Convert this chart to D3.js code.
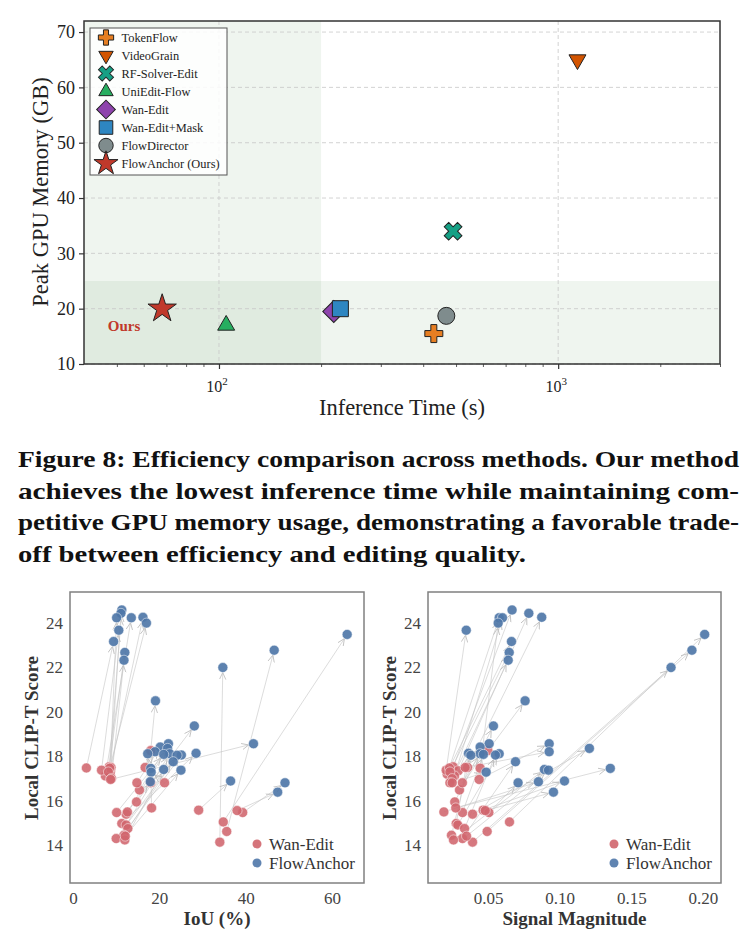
<!DOCTYPE html>
<html lang="en">
<head>
<meta charset="UTF-8">
<title>Efficiency</title>
<script src="https://d3js.org/d3.v7.min.js"></script>
<style>
  body { margin: 0; background: #fff; }
  svg { display: block; font-family: "Liberation Serif", "DejaVu Serif", serif; }
</style>
</head>
<body>
<script>
// ---- top chart data ----
const methods = ["TokenFlow", "VideoGrain", "RF-Solver-Edit", "UniEdit-Flow", "Wan-Edit", "Wan-Edit+Mask", "FlowDirector", "FlowAnchor (Ours)"];
const inferTime = [430, 1140, 490, 105, 218, 228, 468, 68];
const peakMem = [15.5, 65, 34, 17, 19.5, 20, 18.7, 20];
const memTicks = [10, 20, 30, 40, 50, 60, 70];

// ---- bottom charts data (Wan-Edit -> FlowAnchor, per sample) ----
const wanIoU = [8.4, 8.7, 8.6, 7.5, 8.8, 8.5, 6.6, 34.8, 3.1, 35.6, 8.2, 8.9, 34.0, 18.0, 14.7, 8.7, 15.4, 14.8, 12.3, 16.7, 11.3, 18.0, 12.3, 10.1, 12.7, 11.8, 10.0, 18.2, 12.0, 12.1, 21.2, 29.1, 12.6, 39.3, 38.0];
const wanSig = [0.0256, 0.0291, 0.0214, 0.0265, 0.0356, 0.0444, 0.0207, 0.0649, 0.0230, 0.0493, 0.0233, 0.0249, 0.0391, 0.0498, 0.0267, 0.0437, 0.0300, 0.0233, 0.0391, 0.0340, 0.0277, 0.0320, 0.0288, 0.0321, 0.0335, 0.0244, 0.0321, 0.0274, 0.0258, 0.0349, 0.0249, 0.0465, 0.0191, 0.0505, 0.0480];
const wanClip = [17.53, 17.35, 17.2, 17.12, 17.5, 17.47, 17.38, 15.05, 17.48, 14.62, 17.3, 17.0, 14.14, 18.26, 15.95, 16.96, 16.49, 16.81, 15.4, 17.5, 14.98, 16.81, 14.91, 15.47, 14.75, 14.45, 14.3, 15.68, 14.24, 14.41, 16.81, 15.58, 15.5, 15.47, 15.56];
const faIoU = [11.3, 11.1, 10.1, 13.5, 16.2, 17.0, 10.6, 63.5, 9.4, 46.6, 12.0, 11.8, 34.7, 19.1, 28.1, 41.8, 22.1, 20.2, 21.9, 19.0, 28.5, 17.3, 22.4, 21.0, 25.1, 24.1, 23.2, 18.0, 21.0, 25.0, 18.1, 36.5, 17.9, 49.1, 47.4];
const faSig = [0.0667, 0.0784, 0.0577, 0.0600, 0.0874, 0.0570, 0.0347, 0.2012, 0.0663, 0.1923, 0.0647, 0.0640, 0.1777, 0.0758, 0.0537, 0.0926, 0.0507, 0.0444, 0.1207, 0.0926, 0.0363, 0.0444, 0.0577, 0.0467, 0.0551, 0.0379, 0.0691, 0.1353, 0.0893, 0.0921, 0.0486, 0.1033, 0.0851, 0.0709, 0.0956];
const faClip = [24.59, 24.44, 24.24, 24.24, 24.26, 24.0, 23.68, 23.49, 23.17, 22.78, 22.68, 22.33, 22.0, 20.5, 19.37, 18.57, 18.57, 18.42, 18.36, 18.21, 18.14, 18.12, 18.12, 18.09, 18.06, 18.05, 17.76, 17.46, 17.41, 17.38, 17.29, 16.89, 16.86, 16.81, 16.39];
const clipTicks = [14, 16, 18, 20, 22, 24];
const iouTicks = [0, 20, 40, 60];
const sigTicks = [0.05, 0.10, 0.15, 0.20];

const captionLines = [
  "Figure 8: Efficiency comparison across methods. Our method",
  "achieves the lowest inference time while maintaining com-",
  "petitive GPU memory usage, demonstrating a favorable trade-",
  "off between efficiency and editing quality."
];

const svg = d3.select("body").append("svg").attr("width", 756).attr("height", 947);

// ================= top chart =================
const colors = ["#e67e22", "#d35400", "#16a085", "#27ae60", "#8e44ad", "#2e86c1", "#7f8c8d", "#c0392b"];
const shapes = [
  {t: d3.symbolCross, s: 180, r: 0},
  {t: d3.symbolTriangle, s: 125, r: 180},
  {t: d3.symbolCross, s: 196, r: 45},
  {t: d3.symbolTriangle, s: 125, r: 0},
  {t: d3.symbolSquare, s: 242, r: 45},
  {t: d3.symbolSquare, s: 256, r: 0},
  {t: d3.symbolCircle, s: 227, r: 0},
  {t: d3.symbolStar, s: 250, r: 0}
];

const x = d3.scaleLog().domain([40, 3000]).range([84, 720]);
const y = d3.scaleLinear().domain([10, 72]).range([364, 21]);
const topG = svg.append("g");

// shaded efficiency regions
topG.append("rect").attr("x", x(40)).attr("y", y(72)).attr("width", x(200) - x(40)).attr("height", y(10) - y(72))
  .attr("fill", "#2e7d32").attr("fill-opacity", 0.08);
topG.append("rect").attr("x", x(40)).attr("y", y(25)).attr("width", x(3000) - x(40)).attr("height", y(10) - y(25))
  .attr("fill", "#2e7d32").attr("fill-opacity", 0.08);

// grid
topG.selectAll("line.gy").data(memTicks).join("line").attr("class", "gy")
  .attr("x1", 84).attr("x2", 720).attr("y1", d => y(d)).attr("y2", d => y(d))
  .attr("stroke", "#c8c8c8").attr("stroke-dasharray", "4,3").attr("stroke-width", 0.8);
topG.selectAll("line.gx").data([100, 1000]).join("line").attr("class", "gx")
  .attr("x1", d => x(d)).attr("x2", d => x(d)).attr("y1", 21).attr("y2", 364)
  .attr("stroke", "#c8c8c8").attr("stroke-dasharray", "4,3").attr("stroke-width", 0.8);

// axes
const yAxis = d3.axisLeft(y).tickValues(memTicks).tickSize(5).tickPadding(4);
topG.append("g").attr("transform", "translate(84,0)").call(yAxis)
  .call(g => g.select(".domain").remove())
  .call(g => g.selectAll("text").attr("font-size", 18).attr("fill", "#222").attr("font-family", "Liberation Serif"))
  .call(g => g.selectAll("line").attr("stroke", "#333").attr("stroke-width", 1.2));

const minor = [50, 60, 70, 80, 90, 200, 300, 400, 500, 600, 700, 800, 900, 2000, 3000];
topG.append("g").attr("transform", "translate(0,364)")
  .call(d3.axisBottom(x).tickValues(minor).tickSize(3).tickFormat(""))
  .call(g => g.select(".domain").remove())
  .call(g => g.selectAll("line").attr("stroke", "#333").attr("stroke-width", 0.8));
topG.append("g").attr("transform", "translate(0,364)")
  .call(d3.axisBottom(x).tickValues([100, 1000]).tickSize(5).tickFormat(""))
  .call(g => g.select(".domain").remove())
  .call(g => g.selectAll("line").attr("stroke", "#333").attr("stroke-width", 1.2));
[100, 1000].forEach(v => {
  const t = topG.append("text").attr("x", x(v) - 2).attr("y", 392).attr("text-anchor", "middle")
    .attr("font-size", 16).attr("fill", "#222");
  t.append("tspan").text("10");
  t.append("tspan").attr("dy", -7).attr("font-size", 11).text(Math.round(Math.log10(v)));
});

topG.append("rect").attr("x", 84).attr("y", 21).attr("width", 636).attr("height", 343)
  .attr("fill", "none").attr("stroke", "#333").attr("stroke-width", 1.5);

topG.append("text").attr("x", 402).attr("y", 415).attr("text-anchor", "middle")
  .attr("font-size", 22.5).attr("fill", "#222").text("Inference Time (s)");
topG.append("text").attr("transform", "translate(48,192) rotate(-90)").attr("text-anchor", "middle")
  .attr("font-size", 22.5).attr("fill", "#222").text("Peak GPU Memory (GB)");

// points
topG.selectAll("path.pt").data(methods).join("path").attr("class", "pt")
  .attr("d", (d, i) => d3.symbol().type(shapes[i].t).size(shapes[i].s)())
  .attr("transform", (d, i) => `translate(${x(inferTime[i])},${y(peakMem[i])}) rotate(${shapes[i].r})`)
  .attr("fill", (d, i) => colors[i]).attr("stroke", "#222").attr("stroke-width", 1);

topG.append("text").attr("x", 124).attr("y", 331).attr("text-anchor", "middle")
  .attr("font-size", 15).attr("font-weight", "bold").attr("fill", "#c0392b").text("Ours");

// legend
const leg = topG.append("g");
leg.append("rect").attr("x", 90).attr("y", 28).attr("width", 137).attr("height", 147)
  .attr("fill", "#fff").attr("fill-opacity", 0.85).attr("stroke", "#555").attr("stroke-width", 1);
methods.forEach((m, i) => {
  const ly = 37.5 + i * 18;
  leg.append("path").attr("d", d3.symbol().type(shapes[i].t).size(shapes[i].s * 0.72)())
    .attr("transform", `translate(106,${ly}) rotate(${shapes[i].r})`)
    .attr("fill", colors[i]).attr("stroke", "#222").attr("stroke-width", 1);
  leg.append("text").attr("x", 121.5).attr("y", ly + 4).attr("font-size", 12.4).attr("fill", "#222").text(m);
});

// ================= caption =================
captionLines.forEach((line, i) => {
  svg.append("text").attr("x", 18).attr("y", 467 + i * 31.5)
    .attr("font-size", 24).attr("font-weight", "bold").attr("fill", "#111").text(line)
    .attr("textLength", i < 3 ? 721 : 508).attr("lengthAdjust", "spacingAndGlyphs");
});

// ================= bottom charts =================
const red = "#d0656d", blue = "#4f77a8";
svg.append("defs").append("marker").attr("id", "arr")
  .attr("viewBox", "0 0 8 8").attr("refX", 7).attr("refY", 4)
  .attr("markerWidth", 8).attr("markerHeight", 8).attr("markerUnits", "userSpaceOnUse")
  .attr("orient", "auto")
  .append("path").attr("d", "M0,0.8 L7,4 L0,7.2").attr("fill", "none")
  .attr("stroke", "#bbb").attr("stroke-width", 0.8);

function panel(x0, x1, domain, ticks, fmt, wx, fx, xlabel, legX, ylabX) {
  const g = svg.append("g");
  const sx = d3.scaleLinear().domain(domain).range([x0, x1]);
  const sy = d3.scaleLinear().domain([12.3, 25.4]).range([883, 592]);

  g.append("g").attr("transform", "translate(0,883)")
    .call(d3.axisBottom(sx).tickValues(ticks).tickSize(0).tickPadding(9).tickFormat(fmt))
    .call(a => a.select(".domain").remove())
    .call(a => a.selectAll("text").attr("font-size", 17).attr("fill", "#444").attr("font-family", "Liberation Serif"));
  g.append("g").attr("transform", `translate(${x0},0)`)
    .call(d3.axisLeft(sy).tickValues(clipTicks).tickSize(0).tickPadding(7))
    .call(a => a.select(".domain").remove())
    .call(a => a.selectAll("text").attr("font-size", 17).attr("fill", "#444").attr("font-family", "Liberation Serif"));

  // arrows
  const idx = d3.range(faClip.length);
  g.selectAll("line.ar").data(idx).join("line").attr("class", "ar")
    .each(function(i) {
      const ax = sx(wx[i]), ay = sy(wanClip[i]), bx = sx(fx[i]), by = sy(faClip[i]);
      const len = Math.hypot(bx - ax, by - ay) || 1;
      const k = Math.max(0, (len - 5) / len);
      d3.select(this).attr("x1", ax).attr("y1", ay).attr("x2", ax + (bx - ax) * k).attr("y2", ay + (by - ay) * k);
    })
    .attr("stroke", "#c4c4c4").attr("stroke-opacity", 0.75).attr("stroke-width", 0.8)
    .attr("marker-end", "url(#arr)");

  g.selectAll("circle.w").data(idx).join("circle").attr("class", "w")
    .attr("cx", i => sx(wx[i])).attr("cy", i => sy(wanClip[i])).attr("r", 5)
    .attr("fill", red).attr("fill-opacity", 0.88).attr("stroke", "#fff").attr("stroke-width", 0.5);
  g.selectAll("circle.f").data(idx).join("circle").attr("class", "f")
    .attr("cx", i => sx(fx[i])).attr("cy", i => sy(faClip[i])).attr("r", 5)
    .attr("fill", blue).attr("fill-opacity", 0.92).attr("stroke", "#fff").attr("stroke-width", 0.5);

  g.append("rect").attr("x", x0).attr("y", 592).attr("width", x1 - x0).attr("height", 291)
    .attr("fill", "none").attr("stroke", "#808080").attr("stroke-width", 1.5);

  // legend
  [["Wan-Edit", red], ["FlowAnchor", blue]].forEach((d, i) => {
    g.append("circle").attr("cx", legX).attr("cy", 844 + i * 19).attr("r", 4.5).attr("fill", d[1]).attr("fill-opacity", 0.9);
    g.append("text").attr("x", legX + 12).attr("y", 850 + i * 19).attr("font-size", 17).attr("fill", "#333").text(d[0]);
  });

  g.append("text").attr("x", (x0 + x1) / 2).attr("y", 925).attr("text-anchor", "middle")
    .attr("font-size", 19).attr("font-weight", "bold").attr("fill", "#333").text(xlabel);
  g.append("text").attr("transform", `translate(${ylabX},738) rotate(-90)`).attr("text-anchor", "middle")
    .attr("font-size", 19).attr("font-weight", "bold").attr("fill", "#333").text("Local CLIP-T Score");
}

panel(70, 364, [-0.7, 67.4], iouTicks, d3.format("d"), wanIoU, faIoU, "IoU (%)", 257, 38);
panel(428, 721, [0.008, 0.2126], sigTicks, d3.format(".2f"), wanSig, faSig, "Signal Magnitude", 614, 396);
</script>
</body>
</html>
